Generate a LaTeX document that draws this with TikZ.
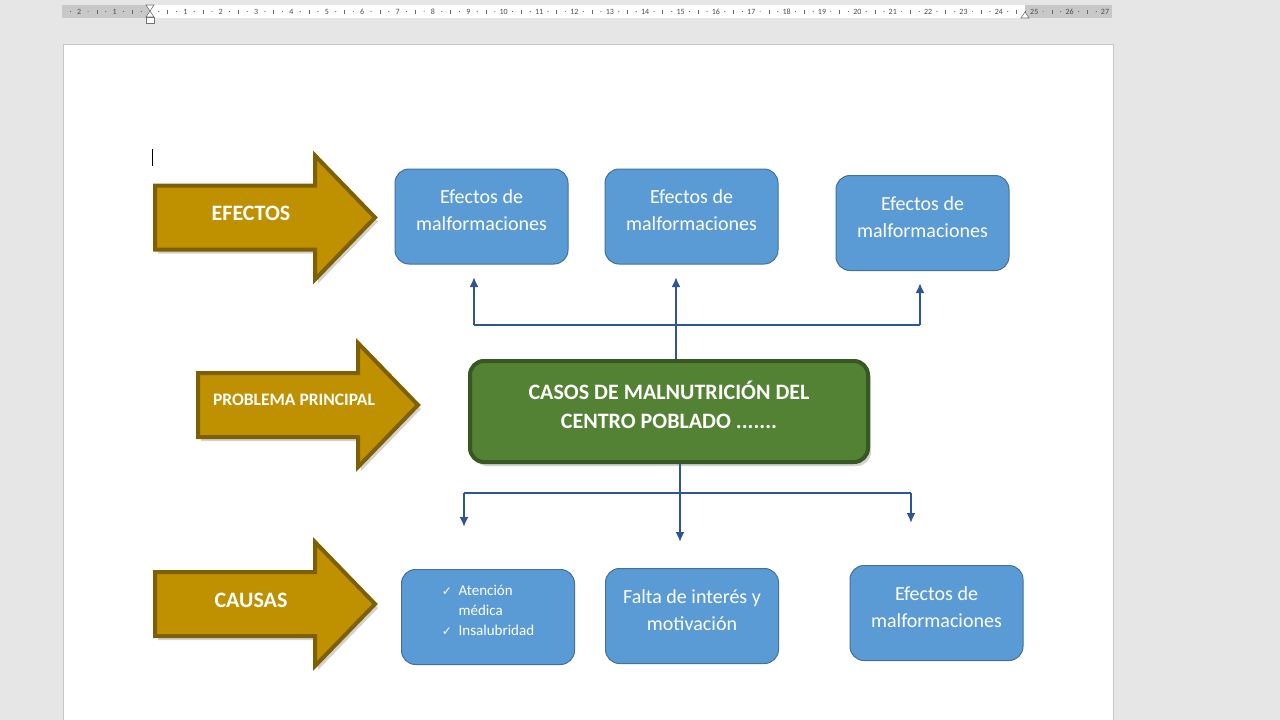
\documentclass[tikz,border=0pt]{standalone}
\usepackage{fontspec}
\setmainfont{Carlito}
\newfontfamily\simbolo{DejaVu Sans}
\usetikzlibrary{
	positioning,   %定位
	arrows.meta,   %箭头
	shadows,       %阴影
	calc           %计算
}
\definecolor{oro}{HTML}{BF9000}
\definecolor{orooscuro}{HTML}{7F6000}
\definecolor{azulcaja}{HTML}{5B9BD5}
\definecolor{azulborde}{HTML}{41719C}
\definecolor{verde}{HTML}{548235}
\definecolor{verdeoscuro}{HTML}{385723}
\definecolor{azullinea}{HTML}{2F5597}
\definecolor{fondo}{HTML}{E6E6E6}
\definecolor{regla}{HTML}{C8C8C8}
\definecolor{borde}{HTML}{C6C6C6}
\tikzset{
	every picture/.style={
		>=latex
	},
	caja/.style={rectangle,rounded corners=14pt,fill=azulcaja,draw=azulborde,
		line width=1pt,minimum width=173pt,minimum height=95pt,text=white,
		align=center,text depth=12pt,font=\fontsize{20}{27}\selectfont},
	problema/.style={rectangle,rounded corners=14pt,fill=verde,draw=verdeoscuro,
		line width=4pt,minimum width=398pt,minimum height=101pt,text=white,
		align=center,text depth=13pt,font=\bfseries\fontsize{22}{29}\selectfont,
		drop shadow={shadow xshift=3pt,shadow yshift=-4pt,opacity=.35}},
	flecha/.style={fill=oro,draw=orooscuro,line width=4pt,line join=miter,
		drop shadow={shadow xshift=3pt,shadow yshift=-4pt,opacity=.35}},
	rotulo/.style={text=white,font=\bfseries\fontsize{22}{26}\selectfont},
	conector/.style={draw=azullinea,line width=2.8pt,-{Latex[length=10pt,width=9pt]}},
	barra/.style={draw=azullinea,line width=2.8pt},
	numregla/.style={text=black!70,font=\fontsize{8}{8}\selectfont,inner sep=0pt}
}
%大箭头: #1 左端 x, #2 中线 y
\newcommand{\flechagrande}[2]{%
	\draw[flecha] (#1,#2-32) -- ++(160,0) -- ++(0,-30) -- ++(60,62)
	-- ++(-60,62) -- ++(0,-30) -- ++(-160,0) -- cycle;}
\newcommand{\chk}{{\simbolo\fontsize{12}{12}\selectfont ✓}}
\begin{document}
\begin{tikzpicture}[x=1pt,y=-1pt]
\def\cm{35.37}%标尺一厘米
\def\ox{150}%标尺零点
\useasboundingbox (0,0) rectangle (1280,720);
\fill[fondo] (0,0) rectangle (1280,720);

%标尺
\fill[regla] (62,5) rectangle (1112,18);
\fill[white] (\ox,5) rectangle (1025,18);
\begin{scope}
\clip (62,5) rectangle (1112,18);
\foreach \k in {-3,...,26}{
	\fill[black!60] ({\ox+\cm*(\k+0.25)},11.5) circle (0.6);
	\fill[black!60] ({\ox+\cm*(\k+0.75)},11.5) circle (0.6);
	\draw[black!60,line width=0.8pt] ({\ox+\cm*(\k+0.5)},9.5) -- ++(0,4);
}
\end{scope}
\foreach \n in {1,...,27}
\node[numregla] at ({\ox+\cm*\n},11.5) {\n};
\foreach \n in {1,2}
\node[numregla] at ({\ox-\cm*\n},11.5) {\n};
%缩进标记
\draw[fill=white,draw=black!55,line width=0.6pt] (146,5) -- (154,5) -- (150,11) -- cycle;
\draw[fill=white,draw=black!55,line width=0.6pt] (150,11) -- (146,17) -- (154,17) -- cycle;
\draw[fill=white,draw=black!55,line width=0.6pt] (146,17) rectangle (154,23);
\draw[fill=white,draw=black!55,line width=0.6pt] (1025,12) -- (1021,18) -- (1029,18) -- cycle;

%页面
\draw[fill=white,draw=borde] (63,44) rectangle (1113,722);
\draw[black,line width=1pt] (152,149) -- (152,166);

%三个大箭头
\flechagrande{155}{217.5}
\flechagrande{198}{405}
\flechagrande{155}{604}
\node[rotulo] (efectos) at (251,213) {EFECTOS};
\node[rotulo,font=\bfseries\fontsize{17.5}{20}\selectfont] (principal) at (294,400) {PROBLEMA PRINCIPAL};
\node[rotulo] (causas) at (251,600) {CAUSAS};

%中间问题
\node[problema] (p) at (669,411.5) {CASOS DE MALNUTRICIÓN DEL\\CENTRO POBLADO .......};

%效果
\node[caja] (e1) at (481.5,216.5) {Efectos de\\malformaciones};
\node[caja] (e2) at (691.5,216.5) {Efectos de\\malformaciones};
\node[caja] (e3) at (922.5,223) {Efectos de\\malformaciones};

%原因
\node[caja] (c1) at (488,617) {};
\node[text=white,align=left,font=\fontsize{15}{20}\selectfont] (lista) at ([yshift=7pt]c1.center)
{\chk\ \ Atención\\\phantom{\chk\ \ }médica\\\chk\ \ Insalubridad};
\node[caja] (c2) at (692,616) {Falta de interés y\\motivación};
\node[caja] (c3) at (936.5,613) {Efectos de\\malformaciones};

%连接线端点
\coordinate (a1) at (474,277);
\coordinate (a2) at (676,277);
\coordinate (a3) at (920,283);
\coordinate (b1) at (464,527);
\coordinate (b2) at (680,542);
\coordinate (b3) at (911,523);
\coordinate (ya) at (0,325);
\coordinate (yb) at (0,493);

%上方连接
\draw[barra] (ya -| a1) -- (ya -| a3);
\draw[conector] (ya -| a1) -- (a1);
\draw[conector] (ya -| a3) -- (a3);
\draw[conector] (p.north -| a2) -- (a2);
%下方连接
\draw[barra] (yb -| b1) -- (yb -| b3);
\draw[conector] (yb -| b1) -- (b1);
\draw[conector] (yb -| b3) -- (b3);
\draw[conector] (p.south -| b2) -- (b2);

\end{tikzpicture}
\end{document}
